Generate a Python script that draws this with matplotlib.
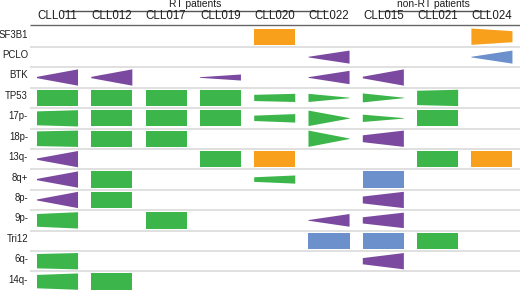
import matplotlib
matplotlib.use("Agg")
import matplotlib.pyplot as plt
from matplotlib.patches import Polygon

plt.rcParams['font.family'] = ['Liberation Sans', 'DejaVu Sans']

# ---------------- data ----------------
patients = ["CLL011", "CLL012", "CLL017", "CLL019", "CLL020", "CLL022",
            "CLL015", "CLL021", "CLL024"]
groups = ["RT patients", "non-RT patients"]
alterations = ["SF3B1", "PCLO", "BTK", "TP53", "17p-", "18p-", "13q-",
               "8q+", "8p-", "9p-", "Tri12", "6q-", "14q-"]

# kind of each cell: g = green, p = purple, o = orange, b = blue, '' = none
kind = [
    ['',  '',  '',  '',  'o', '',  '',  '',  'o'],   # SF3B1
    ['',  '',  '',  '',  '',  'p', '',  '',  'b'],   # PCLO
    ['p', 'p', '',  'p', '',  'p', 'p', '',  ''],    # BTK
    ['g', 'g', 'g', 'g', 'g', 'g', 'g', 'g', ''],    # TP53
    ['g', 'g', 'g', 'g', 'g', 'g', 'g', 'g', ''],    # 17p-
    ['g', 'g', 'g', '',  '',  'g', 'p', '',  ''],    # 18p-
    ['p', '',  '',  'g', 'o', '',  '',  'g', 'o'],   # 13q-
    ['p', 'g', '',  '',  'g', '',  'b', '',  ''],    # 8q+
    ['p', 'g', '',  '',  '',  '',  'p', '',  ''],    # 8p-
    ['g', '',  'g', '',  '',  'p', 'p', '',  ''],    # 9p-
    ['',  '',  '',  '',  '',  'b', 'b', 'g', ''],    # Tri12
    ['g', '',  '',  '',  '',  '',  'p', '',  ''],    # 6q-
    ['g', 'g', '',  '',  '',  '',  '',  '',  ''],    # 14q-
]
# relative clone size before (left edge) and after (right edge)
size_before = [
    [0, 0, 0, 0, 1, 0, 0, 0, 1],
    [0, 0, 0, 0, 0, 0.04, 0, 0, 0.04],
    [0.08, 0.08, 0, 0.04, 0, 0.04, 0.1, 0, 0],
    [1, 1, 1, 1, 0.38, 0.5, 0.55, 0.88, 0],
    [0.85, 1, 1, 1, 0.33, 0.95, 0.45, 1, 0],
    [0.9, 1, 1, 0, 0, 1, 0.42, 0, 0],
    [0.08, 0, 0, 1, 1, 0, 0, 1, 1],
    [0.08, 1, 0, 0, 0.28, 0, 1, 0, 0],
    [0.06, 1, 0, 0, 0, 0, 0.42, 0, 0],
    [0.78, 0, 1, 0, 0, 0.04, 0.38, 0, 0],
    [0, 0, 0, 0, 0, 1, 1, 1, 0],
    [0.88, 0, 0, 0, 0, 0, 0.38, 0, 0],
    [0.82, 1, 0, 0, 0, 0, 0, 0, 0],
]
size_after = [
    [0, 0, 0, 0, 1, 0, 0, 0, 0.68],
    [0, 0, 0, 0, 0, 0.8, 0, 0, 0.8],
    [1, 1, 0, 0.37, 0, 0.82, 1, 0, 0],
    [1, 1, 1, 1, 0.5, 0.03, 0.03, 1, 0],
    [1, 1, 1, 1, 0.52, 0.03, 0.03, 1, 0],
    [1, 1, 1, 0, 0, 0.03, 1, 0, 0],
    [1, 0, 0, 1, 1, 0, 0, 1, 1],
    [1, 1, 0, 0, 0.5, 0, 1, 0, 0],
    [1, 1, 0, 0, 0, 0, 1, 0, 0],
    [1, 0, 1, 0, 0, 0.78, 0.95, 0, 0],
    [0, 0, 0, 0, 0, 1, 1, 1, 0],
    [1, 0, 0, 0, 0, 0, 1, 0, 0],
    [1, 1, 0, 0, 0, 0, 0, 0, 0],
]

# ---------------- style ----------------
colors = {'g': '#3cb54a', 'p': '#7b4aa0', 'o': '#f8a01c', 'b': '#6b90cc'}
half_w = 0.378
full_h = 0.80
text_color = '#1e1e1e'

fig = plt.figure(figsize=(5.2, 2.91), dpi=100)
ax = fig.add_axes([0, 0, 1, 1])
ax.set_xlim(-1.059, 8.517)
ax.set_ylim(12.46, -1.798)
ax.axis('off')

# row separators
ax.hlines([r + 0.5 for r in range(len(alterations) - 1)], -0.506, 8.517,
          color='#dadada', lw=1.2, zorder=1)
# header underline
ax.hlines(-0.57, -0.506, 8.517, color='#666666', lw=1.0, zorder=1)

# cells
for r in range(len(alterations)):
    for c in range(len(patients)):
        k = kind[r][c]
        if not k:
            continue
        h0 = size_before[r][c] * full_h / 2
        h1 = size_after[r][c] * full_h / 2
        x0, x1 = c - half_w, c + half_w
        poly = Polygon([(x0, r - h0), (x1, r - h1), (x1, r + h1), (x0, r + h0)],
                       closed=True, facecolor=colors[k], edgecolor='none', zorder=3)
        ax.add_patch(poly)

# labels
for c, name in enumerate(patients):
    ax.text(c, -0.99, name, ha='center', va='center', fontsize=8.3, color=text_color)
for r, name in enumerate(alterations):
    ax.text(-0.543, r - 0.1, name, ha='right', va='center', fontsize=6.9, color=text_color)

# group headers
group_line_start = [0.083, 5.90]
group_line_end = [4.98, 7.96]
for g, name in enumerate(groups):
    ax.hlines(-1.28, group_line_start[g], group_line_end[g], color='#555555', lw=1.0)
    ax.text((group_line_start[g] + group_line_end[g]) / 2, -1.58, name,
            ha='center', va='center', fontsize=7.4, color=text_color)

fig.savefig("out.png", dpi=100)
